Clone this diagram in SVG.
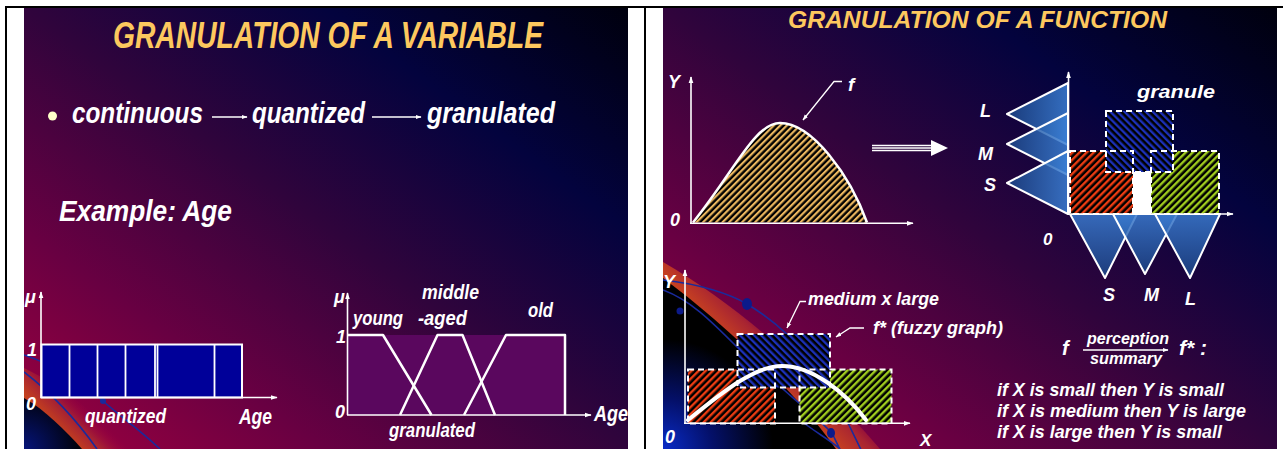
<svg xmlns="http://www.w3.org/2000/svg" width="1283" height="449" viewBox="0 0 1283 449">
<defs>
<style>
.t{font-family:"Liberation Sans Narrow","Liberation Sans",Arial,sans-serif;font-weight:bold;font-style:italic;fill:#fff}
.w{font-family:"Liberation Sans",Arial,sans-serif;font-weight:bold;font-style:italic;fill:#fff}
.ttl{fill:#FDC85E}
.ax{stroke:#fff;stroke-width:1.6;fill:none}
.ld{stroke:#fff;stroke-width:1.3;fill:none}
.dash{fill:none;stroke:#fff;stroke-width:2;stroke-dasharray:6 4}
.mf{fill:none;stroke:#fff;stroke-width:2.5;stroke-linejoin:round}
.bl{fill:none;stroke:#1a2a9c;stroke-width:1.6}
.tri{stroke:#fff;stroke-width:2;stroke-linejoin:round}
</style>
<linearGradient id="bg" x1="0" y1="1" x2="1" y2="0">
<stop offset="0" stop-color="#a0003f"/>
<stop offset="0.25" stop-color="#680042"/>
<stop offset="0.5" stop-color="#30043c"/>
<stop offset="0.75" stop-color="#03033e"/>
<stop offset="1" stop-color="#00000e"/>
</linearGradient>
<linearGradient id="triL" x1="0" y1="0" x2="1" y2="0">
<stop offset="0" stop-color="#1b4586"/>
<stop offset="1" stop-color="#3b80d6"/>
</linearGradient>
<linearGradient id="triB" x1="0" y1="0" x2="0" y2="1">
<stop offset="0" stop-color="#3b7bd0"/>
<stop offset="1" stop-color="#1b4586"/>
</linearGradient>
<linearGradient id="orR" gradientUnits="userSpaceOnUse" x1="755" y1="372" x2="795" y2="332">
<stop offset="0" stop-color="#cc461e"/>
<stop offset="0.5" stop-color="#a82432"/>
<stop offset="1" stop-color="#9a0040" stop-opacity="0"/>
</linearGradient>
<linearGradient id="orL" gradientUnits="userSpaceOnUse" x1="55" y1="425" x2="80" y2="400">
<stop offset="0" stop-color="#c4401e"/>
<stop offset="0.5" stop-color="#a42034"/>
<stop offset="1" stop-color="#9a0040" stop-opacity="0"/>
</linearGradient>
<radialGradient id="bkR" gradientUnits="userSpaceOnUse" cx="663" cy="449" r="110">
<stop offset="0" stop-color="#0a2cc8"/>
<stop offset="0.45" stop-color="#04106a"/>
<stop offset="1" stop-color="#000"/>
</radialGradient>
<radialGradient id="bkL" gradientUnits="userSpaceOnUse" cx="24" cy="449" r="60">
<stop offset="0" stop-color="#06147a"/>
<stop offset="1" stop-color="#000"/>
</radialGradient>
<pattern id="hY" width="4.6" height="4.6" patternUnits="userSpaceOnUse" patternTransform="rotate(45)"><rect width="4.6" height="4.6" fill="#000"/><rect width="2.2" height="4.6" fill="#eab65e"/></pattern>
<pattern id="hR" width="5" height="5" patternUnits="userSpaceOnUse" patternTransform="rotate(45)"><rect width="5" height="5" fill="#000"/><rect width="2.4" height="5" fill="#ec3c12"/></pattern>
<pattern id="hG" width="5" height="5" patternUnits="userSpaceOnUse" patternTransform="rotate(45)"><rect width="5" height="5" fill="#000"/><rect width="2.4" height="5" fill="#a0cc1e"/></pattern>
<pattern id="hB" width="5" height="5" patternUnits="userSpaceOnUse" patternTransform="rotate(-45)"><rect width="5" height="5" fill="#000"/><rect width="2.4" height="5" fill="#1c30b8"/></pattern>
<marker id="ah" viewBox="0 0 10 10" refX="9" refY="5" markerWidth="7" markerHeight="7" orient="auto" markerUnits="userSpaceOnUse"><path d="M0,1.5 L10,5 L0,8.5 Z" fill="#fff"/></marker>
<marker id="ahs" viewBox="0 0 10 10" refX="9" refY="5" markerWidth="6" markerHeight="6" orient="auto" markerUnits="userSpaceOnUse"><path d="M0,1.5 L10,5 L0,8.5 Z" fill="#fff"/></marker>
<clipPath id="cL"><rect x="24" y="8" width="604" height="441"/></clipPath>
<clipPath id="cR"><rect x="663" y="8" width="614" height="441"/></clipPath>
</defs>

<rect width="1283" height="449" fill="#fff"/>

<g id="slide-left" clip-path="url(#cL)">
<rect x="24" y="8" width="604" height="441" fill="url(#bg)"/>
<g id="swoosh-left">
<path d="M24,368 C62,386 98,414 130,449 L24,449 Z" fill="url(#orL)"/>
<path d="M24,398 C45,410 65,430 82,449 L24,449 Z" fill="url(#bkL)"/>
<path class="bl" d="M24,355 C55,365 85,385 103,401 S140,430 160,449"/>
<path class="bl" d="M24,372 C50,392 75,418 97,449"/>
<circle cx="103" cy="401" r="3" fill="#1a2a9c"/>
</g>
<text class="t ttl" x="113" y="48" font-size="37" textLength="430" lengthAdjust="spacingAndGlyphs">GRANULATION OF A VARIABLE</text>
<circle cx="52.5" cy="116" r="4.5" fill="#ffffc8"/>
<g id="n-continuous"><text class="t" x="72" y="123" font-size="29" textLength="131" lengthAdjust="spacingAndGlyphs">continuous</text></g>
<g id="n-quantized"><text class="t" x="252" y="123" font-size="29" textLength="113" lengthAdjust="spacingAndGlyphs">quantized</text></g>
<g id="n-granulated"><text class="t" x="427" y="123" font-size="29" textLength="128" lengthAdjust="spacingAndGlyphs">granulated</text></g>
<text class="t" x="59" y="221" font-size="30" textLength="173" lengthAdjust="spacingAndGlyphs">Example: Age</text>

<g id="chart-quantized">
<rect x="41.5" y="344.5" width="200.5" height="53" fill="#000099" stroke="#fff" stroke-width="2"/>
<path d="M69.5,345 V397 M97.5,345 V397 M125.5,345 V397 M155,345 V397 M157.5,345 V397 M214.5,345 V397" stroke="#fff" stroke-width="1.8"/>
<path class="ax" d="M41,398 V292" marker-end="url(#ah)"/>
<path class="ax" d="M41,397.5 H277" marker-end="url(#ah)"/>
<text class="t" x="25" y="303" font-size="18">μ</text>
<text class="t" x="27" y="356" font-size="18">1</text>
<text class="t" x="26" y="410" font-size="18">0</text>
<text class="t" x="85" y="423" font-size="21" textLength="81" lengthAdjust="spacingAndGlyphs">quantized</text>
<text class="t" x="239" y="424" font-size="22" textLength="33" lengthAdjust="spacingAndGlyphs">Age</text>
</g>

<g id="chart-granulated">
<rect x="347" y="335" width="218" height="80" fill="#5a075e"/>
<path class="mf" d="M347,335 L383,335 L431.5,415"/>
<path class="mf" d="M400,415 L437.5,335 L462.5,335 L495,415"/>
<path class="mf" d="M464,415 L506,335 L565,335 L565,415"/>
<path class="ax" d="M347.5,415 V293" marker-end="url(#ah)"/>
<path class="ax" d="M347,415 H591" marker-end="url(#ah)"/>
<text class="t" x="334" y="303" font-size="18">μ</text>
<text class="t" x="336" y="343" font-size="18">1</text>
<text class="t" x="335" y="418" font-size="18">0</text>
<text class="t" x="353" y="325" font-size="21" textLength="50" lengthAdjust="spacingAndGlyphs">young</text>
<text class="t" x="422" y="299" font-size="21" textLength="57" lengthAdjust="spacingAndGlyphs">middle</text>
<text class="t" x="418" y="325" font-size="21" textLength="49" lengthAdjust="spacingAndGlyphs">-aged</text>
<text class="t" x="528" y="317" font-size="21" textLength="25" lengthAdjust="spacingAndGlyphs">old</text>
<text class="t" x="389" y="437" font-size="21" textLength="86" lengthAdjust="spacingAndGlyphs">granulated</text>
<text class="t" x="594" y="421" font-size="22" textLength="34" lengthAdjust="spacingAndGlyphs">Age</text>
</g>
</g>

<g id="slide-right" clip-path="url(#cR)">
<rect x="663" y="8" width="614" height="441" fill="url(#bg)"/>
<g id="swoosh-right">
<path d="M663,262 C735,304 808,366 880,449 L663,449 Z" fill="url(#orR)"/>
<path d="M663,278 C722,322 790,385 836,449 L663,449 Z" fill="url(#bkR)"/>
<path class="bl" d="M663,280 C700,284 730,294 747,304 C790,330 825,370 848,423 L866,460"/>
<path class="bl" d="M663,290 C690,300 710,320 735,345 C775,385 810,410 832,433 L845,460"/>
<path class="bl" d="M800,420 C815,432 830,440 840,449"/>
<ellipse cx="747" cy="304" rx="5" ry="6" fill="#0c1a8a"/>
<circle cx="680" cy="311" r="3.5" fill="#0c1a8a"/>
<ellipse cx="831" cy="433" rx="4" ry="5" fill="#0c1a8a"/>
</g>
<text class="w ttl" x="788" y="28" font-size="23" textLength="379" lengthAdjust="spacingAndGlyphs">GRANULATION OF A FUNCTION</text>

<g id="chart-function">
<path d="M693,222.5 C735,170 755,123 780,123 C812,123 850,175 867,222.5 Z" fill="url(#hY)"/>
<path d="M693,222.5 C735,170 755,123 780,123 C812,123 850,175 867,222.5" fill="none" stroke="#fff" stroke-width="2.5"/>
<path class="ax" d="M691,224 V77" marker-end="url(#ah)"/>
<path class="ax" d="M690,223.3 H913" marker-end="url(#ah)"/>
<text class="w" x="668" y="88" font-size="18">Y</text>
<text class="w" x="670" y="226" font-size="18">0</text>
<text class="w" x="848" y="91" font-size="19">f</text>
</g>

<g id="chart-granules">
<path class="tri" d="M1068,83 L1007,114 L1068,145 Z" fill="url(#triL)" fill-opacity="0.85"/>
<path class="tri" d="M1068,113 L1007,144 L1068,175 Z" fill="url(#triL)" fill-opacity="0.85"/>
<path class="tri" d="M1068,151 L1007,183 L1068,214 Z" fill="url(#triL)" fill-opacity="0.85"/>
<path class="tri" d="M1070,214 L1105,278 L1137,214 Z" fill="url(#triB)" fill-opacity="0.85"/>
<path class="tri" d="M1113,214 L1145,274 L1177,214 Z" fill="url(#triB)" fill-opacity="0.85"/>
<path class="tri" d="M1155,214 L1190,278 L1220,214 Z" fill="url(#triB)" fill-opacity="0.85"/>
<rect x="1070" y="151" width="63" height="63" fill="url(#hR)"/>
<rect x="1151" y="151" width="68" height="63" fill="url(#hG)"/>
<rect x="1133" y="172" width="18" height="42" fill="#fff"/>
<rect x="1106" y="111" width="67" height="61" fill="url(#hB)"/>
<rect class="dash" x="1070" y="151" width="63" height="63"/>
<rect class="dash" x="1151" y="151" width="68" height="63"/>
<rect class="dash" x="1106" y="111" width="67" height="61"/>
<path class="ax" d="M1068.5,215 V72" marker-end="url(#ah)"/>
<path class="ax" d="M1068,214 H1233" marker-end="url(#ah)"/>
<text class="w" x="980" y="117" font-size="18">L</text>
<text class="w" x="978" y="160" font-size="18">M</text>
<text class="w" x="984" y="191" font-size="18">S</text>
<text class="w" x="1103" y="301" font-size="18">S</text>
<text class="w" x="1144" y="301" font-size="18">M</text>
<text class="w" x="1185" y="305" font-size="18">L</text>
<text class="w" x="1043" y="245" font-size="17">0</text>
<text class="w" x="1137" y="98" font-size="19" textLength="78" lengthAdjust="spacingAndGlyphs">granule</text>
</g>

<g id="chart-fuzzy-graph">
<rect x="688" y="369.5" width="87" height="54" fill="url(#hR)"/>
<rect x="799.5" y="369.5" width="92" height="54" fill="url(#hG)"/>
<rect x="737.5" y="334" width="92.5" height="53.5" fill="url(#hB)"/>
<rect class="dash" x="688" y="369.5" width="87" height="54"/>
<rect class="dash" x="799.5" y="369.5" width="92" height="54"/>
<rect class="dash" x="737.5" y="334" width="92.5" height="53.5"/>
<path d="M688,420 C725,390 755,366 782,366 C812,366 845,392 866,420" fill="none" stroke="#fff" stroke-width="4" stroke-linecap="round"/>
<path class="ax" d="M685,424 V270" marker-end="url(#ah)"/>
<path class="ax" d="M684,423.3 H910" marker-end="url(#ah)"/>
<text class="w" x="663" y="288" font-size="18">Y</text>
<text class="w" x="665" y="443" font-size="18">0</text>
<text class="w" x="920" y="446" font-size="17">X</text>
<text class="w" x="808" y="305" font-size="18" textLength="131" lengthAdjust="spacingAndGlyphs">medium x large</text>
<text class="w" x="873" y="334" font-size="18" textLength="130" lengthAdjust="spacingAndGlyphs">f* (fuzzy graph)</text>
</g>

<g id="rules">
<text class="w" x="1062" y="355" font-size="20">f</text>
<text class="w" x="1087" y="344" font-size="16" textLength="82" lengthAdjust="spacingAndGlyphs">perception</text>
<text class="w" x="1090" y="364" font-size="16" textLength="72" lengthAdjust="spacingAndGlyphs">summary</text>
<text class="w" x="1179" y="355" font-size="20" textLength="28" lengthAdjust="spacingAndGlyphs">f* :</text>
<text class="w" x="997" y="396" font-size="18" textLength="227" lengthAdjust="spacingAndGlyphs">if X is small then Y is small</text>
<text class="w" x="997" y="417" font-size="18" textLength="249" lengthAdjust="spacingAndGlyphs">if X is medium then Y is large</text>
<text class="w" x="997" y="438" font-size="18" textLength="225" lengthAdjust="spacingAndGlyphs">if X is large then Y is small</text>
</g>
</g>

<g id="connectors">
<path class="ld" d="M212,117 H247" marker-end="url(#ahs)"/>
<path class="ld" d="M372,117 H421" marker-end="url(#ahs)"/>
<path class="ld" d="M842,81.5 H834 L803,120" marker-end="url(#ahs)"/>
<g id="double-arrow">
<path d="M872,145.5 H933 M872,148 H933 M872,150.5 H933" stroke="#fff" stroke-width="1.3"/>
<path d="M931,140 L948,148 L931,156 Z" fill="#fff"/>
</g>
<path class="ld" d="M806,301.5 H800 L787,328" marker-end="url(#ahs)"/>
<path class="ld" d="M864,328 H850 L836,337" marker-end="url(#ahs)"/>
<path class="ld" d="M1083,350 H1168" marker-end="url(#ahs)"/>
</g>

<g id="frame">
<rect x="5" y="6" width="1278" height="2" fill="#000"/>
<rect x="5" y="6" width="2" height="443" fill="#000"/>
<rect x="644" y="6" width="2" height="443" fill="#000"/>
</g>
</svg>
